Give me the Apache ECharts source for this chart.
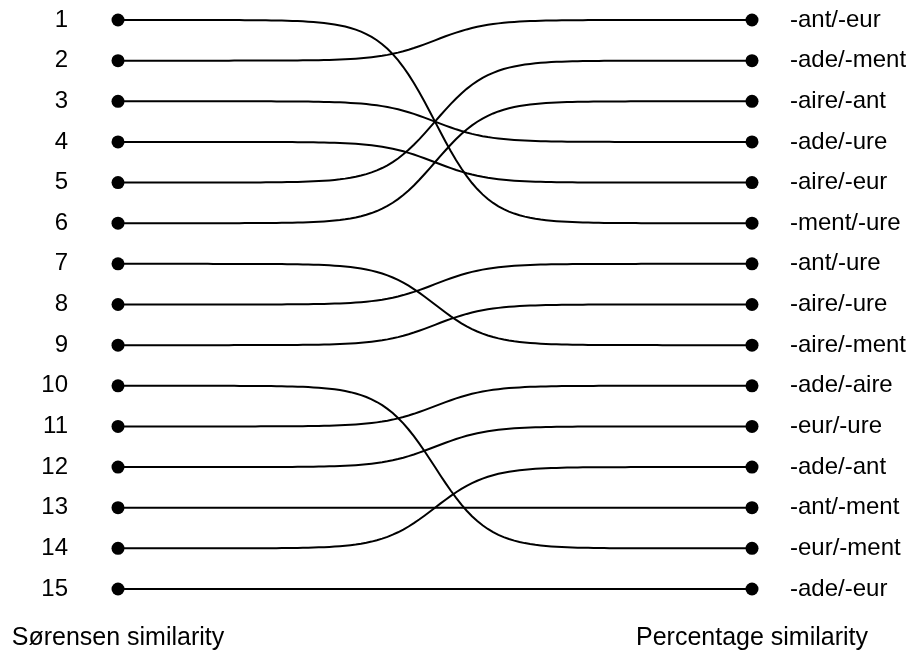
<!DOCTYPE html>
<html>
<head>
<meta charset="utf-8">
<script src="https://cdn.jsdelivr.net/npm/echarts@6/dist/echarts.min.js"></script>
<style>html,body{margin:0;padding:0;background:#fff}#c{width:911px;height:652px}</style>
</head>
<body>
<div id="c"></div>
<script>
// Items listed in Percentage-similarity rank order (right side, 1..15)
const itemNames = ['-ant/-eur','-ade/-ment','-aire/-ant','-ade/-ure','-aire/-eur','-ment/-ure','-ant/-ure','-aire/-ure','-aire/-ment','-ade/-aire','-eur/-ure','-ade/-ant','-ant/-ment','-eur/-ment','-ade/-eur'];
const percentageRank = [1,2,3,4,5,6,7,8,9,10,11,12,13,14,15];
const sorensenRank   = [2,5,6,3,4,1,8,9,7,11,12,14,13,10,15];
const leftTickLabels = ['1','2','3','4','5','6','7','8','9','10','11','12','13','14','15'];
const xTickLabels = ['Sørensen similarity','Percentage similarity'];

const links = itemNames.map((n, i) => [sorensenRank[i], percentageRank[i]]);
const leftPts = sorensenRank.map(r => [0, r]);
const rightPts = percentageRank.map(r => [1, r]);

const SMOOTH = 12;
function renderBump(params, api) {
  const p0 = api.coord([0, api.value(0)]);
  const p1 = api.coord([1, api.value(1)]);
  const pts = [];
  const n = 120;
  for (let k = 0; k <= n; k++) {
    const s = -SMOOTH + 2 * SMOOTH * k / n;
    const f = 1 / (1 + Math.exp(-s));
    pts.push([p0[0] + (p1[0] - p0[0]) * k / n, p0[1] + (p1[1] - p0[1]) * f]);
  }
  return {type: 'polyline', shape: {points: pts}, style: {stroke: '#000', lineWidth: 2, fill: null}};
}

const font = 'Liberation Sans, Arial, Helvetica, sans-serif';
const chart = echarts.init(document.getElementById('c'), null, {renderer: 'canvas'});
chart.setOption({
  backgroundColor: '#fff',
  animation: false,
  grid: {left: 118, right: 159, top: 20, bottom: 63, containLabel: false},
  xAxis: {
    type: 'value', min: 0, max: 1, interval: 1,
    axisLine: {show: false}, axisTick: {show: false}, splitLine: {show: false},
    axisLabel: {show: true, showMinLabel: true, showMaxLabel: true, margin: 37,
      color: '#000', fontSize: 25, fontFamily: font,
      formatter: v => xTickLabels[Math.round(v)]}
  },
  yAxis: [{
    type: 'value', min: 1, max: 15, interval: 1, inverse: true, position: 'left',
    axisLine: {show: false}, axisTick: {show: false}, splitLine: {show: false},
    axisLabel: {margin: 50, color: '#000', fontSize: 24, fontFamily: font,
      showMinLabel: true, showMaxLabel: true, padding: [3, 0, 0, 0],
      formatter: v => leftTickLabels[v - 1]}
  }, {
    type: 'value', min: 1, max: 15, interval: 1, inverse: true, position: 'right',
    axisLine: {show: false}, axisTick: {show: false}, splitLine: {show: false},
    axisLabel: {margin: 38, color: '#000', fontSize: 24, fontFamily: font,
      showMinLabel: true, showMaxLabel: true, padding: [3, 0, 0, 0],
      formatter: v => itemNames[percentageRank.indexOf(v)]}
  }],
  series: [{
    type: 'custom', renderItem: renderBump, data: links,
    encode: {y: [0, 1]}, clip: false, silent: true
  }, {
    type: 'scatter', data: leftPts, symbolSize: 13, itemStyle: {color: '#000', opacity: 1}, silent: true
  }, {
    type: 'scatter', data: rightPts, symbolSize: 13, itemStyle: {color: '#000', opacity: 1}, silent: true
  }]
});
</script>
</body>
</html>
